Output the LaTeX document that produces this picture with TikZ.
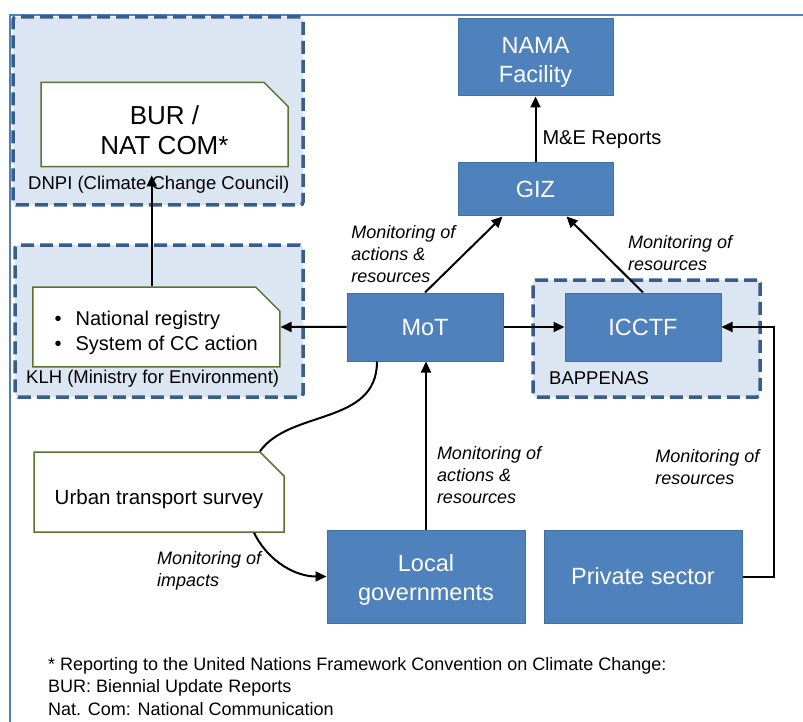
\documentclass[tikz,border=0pt]{standalone}
\usepackage{fontspec}
\setmainfont{Liberation Sans}
\usetikzlibrary{arrows.meta,positioning,shapes.misc}
\definecolor{boxblue}{HTML}{4F81BD}
\definecolor{boxline}{HTML}{41719C}
\definecolor{groupline}{HTML}{385D8A}
\definecolor{groupfill}{HTML}{DCE6F2}
\definecolor{noteline}{HTML}{5A7332}
\newcommand\lift[1]{\rule{0pt}{#1}}
\tikzset{
    tstrut/.style 2 args={
        execute at begin node={\rule[-#2]{0pt}{\dimexpr#1+#2\relax}},
        execute at end node={\rule[-#2]{0pt}{0pt}}},
    box/.style={rectangle, fill=boxblue, draw=boxline, line width=1pt,
        text=white, inner sep=0pt, align=center,
        font=\fontsize{23.5}{28.5}\selectfont},
    group/.style={rectangle, rounded corners=3pt, fill=groupfill,
        draw=groupline, line width=3.5pt, dash pattern=on 13pt off 6pt,
        inner sep=0pt},
    grouptext/.style={anchor=west, inner sep=0pt, tstrut={17.9pt}{4.6pt},
        font=\fontsize{18.5}{22}\selectfont},
    note/.style={chamfered rectangle, chamfered rectangle corners=north east,
        chamfered rectangle sep=12pt, fill=white, draw=noteline,
        line width=1.5pt, inner sep=0pt, align=center},
    mlabel/.style={inner sep=0pt, align=left,
        font=\itshape\fontsize{18}{22}\selectfont},
    arrow/.style={-{Triangle[length=11pt,width=10pt]}, line width=2pt},
    link/.style={line width=2pt}
}
\begin{document}
\begin{tikzpicture}[x=1pt, y=-1pt]
    \useasboundingbox (0,0) rectangle (803,722);
    \draw[boxblue, line width=2pt] (10,722) -- (10,15) -- (803,15);

    % institutions
    \node[group, minimum width=290pt, minimum height=188pt] (dnpi) at (158,111) {};
    \node[group, minimum width=288pt, minimum height=152pt] (klh) at (159,321) {};
    \node[group, minimum width=227pt, minimum height=117pt] (bap) at (646.5,338.5) {};
    \node[grouptext] at (28,183) {DNPI (Climate Change Council)};
    \node[grouptext] at (26,377) {KLH (Ministry for Environment)};
    \node[grouptext] at (549,378) {BAPPENAS};

    % actors
    \node[box, tstrut={22.8pt}{5.9pt}, minimum width=156pt, minimum height=68pt] (mot) at (425,327) {MoT};
    \node[box, tstrut={22.8pt}{5.9pt}, minimum width=156pt, minimum height=68pt, right=61pt of mot] (icctf) {ICCTF};
    \node[box, tstrut={22.8pt}{5.9pt}, minimum width=155pt, minimum height=53pt] (giz) at (535.5,189.5) {GIZ};
    \node[box, minimum width=155pt, minimum height=77pt, above=66pt of giz] (nama) {\lift{26pt}NAMA\\Facility};
    \node[box, minimum width=198pt, minimum height=93pt] (locgov) at (426,576.5) {\lift{24pt}Local\\governments};
    \node[box, tstrut={22.8pt}{5.9pt}, minimum width=198pt, minimum height=93pt, right=18pt of locgov] (priv) {Private sector};

    % reports
    \node[note, minimum width=247pt, minimum height=73pt,
        font=\fontsize{26}{30}\selectfont] (bur) at (164.5,124.5) {\lift{30pt}BUR /\\NAT COM*};
    \node[note, minimum width=247pt, minimum height=67pt, left=66pt of mot,
        font=\fontsize{20}{25}\selectfont, align=left] (reg)
        {\lift{26.6pt}\textbullet\hspace{14pt}National registry\\\textbullet\hspace{14pt}System of CC action};
    \node[note, minimum width=250pt, minimum height=80pt, tstrut={29.9pt}{5.1pt},
        font=\fontsize{20.5}{24}\selectfont] (urban) at (159,492) {Urban transport survey};

    % flows
    \draw[arrow] (giz) -- (nama)
        node[pos=0.38, right=6pt, inner sep=0pt, tstrut={19.4pt}{5pt},
            font=\fontsize{20}{24}\selectfont] {M\&E Reports};
    \draw[arrow] (mot.north) -- ([xshift=-33pt]giz.south)
        node[pos=0.51, left=8pt, mlabel] {Monitoring of\\actions \&\\resources};
    \draw[arrow] (icctf.north) -- ([xshift=31pt]giz.south)
        node[pos=0.52, right=24pt, mlabel] {Monitoring of\\resources};
    \draw[arrow] (mot) -- (reg);
    \draw[arrow] (mot) -- (icctf);
    \draw[arrow, shorten >=8pt] ([xshift=-4.5pt]reg.north) -- ([xshift=-4.5pt]reg.north |- bur.south);
    \draw[arrow] (locgov.north) -- (locgov.north |- mot.south)
        node[pos=0.325, right=10pt, mlabel] {Monitoring of\\actions \&\\resources};
    \draw[arrow] (priv.east) -- ++(31,0) |- (icctf.east)
        node[pos=0.22, left=13pt, mlabel] {Monitoring of\\resources};
    \draw[link] ([xshift=-48pt]mot.south) .. controls +(0,64) and +(30,-42) .. ([xshift=101pt]urban.north);
    \draw[arrow] ([xshift=95pt]urban.south) .. controls +(15,30) and +(-30,0) .. (locgov.west);
    \node[mlabel, anchor=west] at (157,571) {Monitoring of\\impacts};

    % footnote
    \node[inner sep=0pt, align=left, anchor=north west,
        font=\fontsize{18}{22.5}\selectfont] (foot) at (48,657)
        {* Reporting to the United Nations Framework Convention on Climate Change:\\
         BUR: Biennial Update Reports\\
         Nat. Com: National Communication};
\end{tikzpicture}
\end{document}
